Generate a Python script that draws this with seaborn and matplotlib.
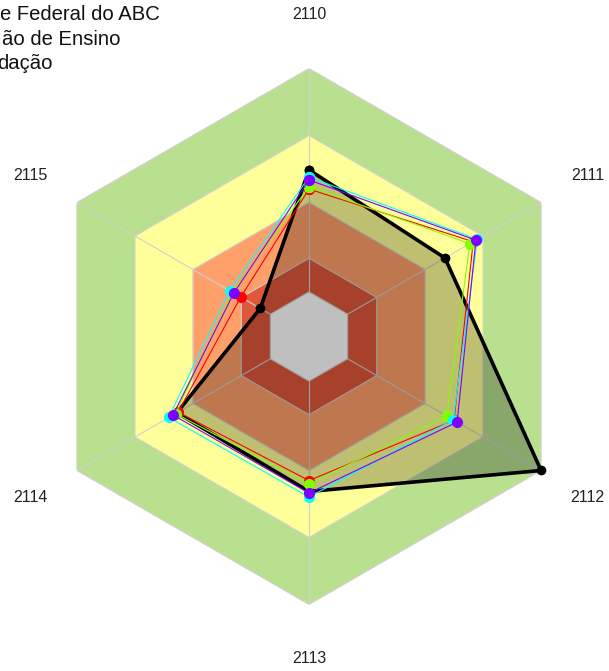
import numpy as np
import pandas as pd
import seaborn as sns
import matplotlib.pyplot as plt

# eixos do radar (sentido horario, comecando no topo)
eixos = ['2110', '2111', '2112', '2113', '2114', '2115']

# faixas de fundo (limite externo de cada faixa) e cores
faixas = [100, 70, 40, 15, 0]
cores_faixas = ['#B9E08F', '#FFFF99', '#FFA06B', '#E0583A', '#FFFFFF']

# series
curso = [54.6, 50.3, 100.0, 49.4, 48.3, 5.2]
serie_vermelha = [46.0, 64.9, 55.0, 44.5, 47.7, 15.3]
serie_verde = [47.1, 63.2, 51.2, 46.1, 49.0, 19.5]
serie_ciano = [51.4, 67.0, 54.6, 51.9, 52.5, 21.1]
serie_roxa = [50.1, 66.3, 56.6, 50.1, 50.3, 18.9]

nomes = ['vermelha', 'verde', 'ciano', 'roxa']
paleta = {'vermelha': '#FF0000', 'verde': '#80FF00',
          'ciano': '#00FFFF', 'roxa': '#8000FF'}

titulo = ['e Federal do ABC', 'ão de Ensino', 'dação']

sns.set_theme(style='white')
plt.rcParams['font.family'] = ['Liberation Sans', 'DejaVu Sans']

n = len(eixos)
theta = np.linspace(0, 2 * np.pi, n + 1)


def fechar(v):
    return list(v) + [v[0]]


fig = plt.figure(figsize=(6.09, 6.71), dpi=100)
ax = fig.add_axes([41 / 609, 66.5 / 671, 536 / 609, 536 / 671], projection='polar')
ax.set_theta_zero_location('N')
ax.set_theta_direction(-1)
ax.set_ylim(-20, 100)
ax.axis('off')

# faixas hexagonais
for nivel, cor in zip(faixas, cores_faixas):
    ax.fill(theta, [nivel] * (n + 1), color=cor, ec='#D0D0D0', lw=0.8, zorder=1)

# raios
for t in theta[:-1]:
    ax.plot([t, t], [0, 100], color='#D0D0D0', lw=0.8, zorder=1.5)

# preenchimento da serie do curso
ax.fill(theta, fechar(curso), color='black', alpha=0.25, lw=0, zorder=2)

# serie do curso
df_curso = pd.DataFrame({'theta': theta, 'valor': fechar(curso)})
sns.lineplot(data=df_curso, x='theta', y='valor', sort=False, estimator=None,
             color='black', lw=2.6, marker='o', markersize=7,
             markeredgewidth=0, clip_on=False, ax=ax, zorder=3)

# demais series
linhas = []
for nome, vals in zip(nomes, [serie_vermelha, serie_verde, serie_ciano, serie_roxa]):
    linhas.append(pd.DataFrame({'theta': theta, 'valor': fechar(vals), 'serie': nome}))
df = pd.concat(linhas, ignore_index=True)
sns.lineplot(data=df, x='theta', y='valor', hue='serie', hue_order=nomes,
             palette=paleta, sort=False, estimator=None, lw=0.8, marker='o',
             markersize=8, markeredgewidth=0, legend=False, clip_on=False,
             ax=ax, zorder=4)

ax.set_xlabel('')
ax.set_ylabel('')

# rotulos dos eixos
for t, rot in zip(theta[:-1], eixos):
    ax.text(t, 124, rot, ha='center', va='center', fontsize=11.5,
            color='#222222', clip_on=False)

# titulo (cortado a esquerda)
for y, linha, xf in zip([20, 45, 69], titulo, [160, 121, 53]):
    fig.text(xf / 609, 1 - y / 671, linha, ha='right', va='baseline',
             fontsize=14.6, color='#111111')

fig.savefig('out.png', dpi=100)
